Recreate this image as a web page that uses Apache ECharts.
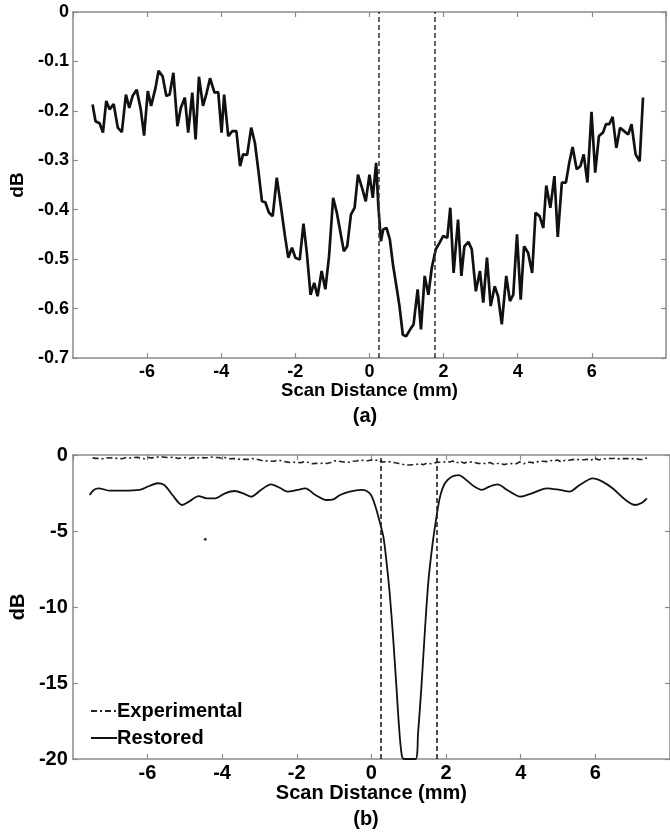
<!DOCTYPE html>
<html>
<head>
<meta charset="utf-8">
<script src="https://cdn.jsdelivr.net/npm/echarts@6/dist/echarts.min.js"></script>
<style>
  html, body { margin: 0; padding: 0; background: #fff; }
  #main { width: 670px; height: 834px; }
</style>
</head>
<body>
<div id="main"></div>
<script>
// measured (experimental) profile, panel (a) and dash-dot curve of panel (b)
var expX = [-7.47,-7.39,-7.28,-7.19,-7.10,-7.01,-6.90,-6.79,-6.68,-6.57,-6.48,-6.39,-6.28,-6.17,-6.08,-5.98,-5.89,-5.77,-5.69,-5.58,
  -5.48,-5.39,-5.29,-5.18,-5.09,-4.98,-4.89,-4.78,-4.69,-4.60,-4.49,-4.39,-4.30,-4.18,-4.08,-3.99,-3.92,-3.81,-3.70,-3.59,
  -3.49,-3.41,-3.30,-3.19,-3.09,-2.99,-2.90,-2.81,-2.71,-2.61,-2.50,-2.39,-2.28,-2.19,-2.09,-2.00,-1.88,-1.78,-1.69,-1.59,
  -1.49,-1.40,-1.29,-1.19,-1.09,-0.98,-0.88,-0.78,-0.69,-0.60,-0.50,-0.40,-0.31,-0.20,-0.10,0.00,0.09,0.18,0.24,0.31,
  0.37,0.46,0.55,0.64,0.74,0.81,0.90,0.99,1.10,1.19,1.30,1.39,1.49,1.59,1.68,1.79,1.89,1.99,2.10,2.18,
  2.27,2.39,2.48,2.56,2.67,2.76,2.87,2.98,3.07,3.17,3.27,3.38,3.47,3.57,3.69,3.79,3.88,3.98,4.08,4.17,
  4.28,4.39,4.48,4.59,4.69,4.77,4.88,4.99,5.08,5.19,5.30,5.39,5.48,5.59,5.69,5.78,5.88,5.99,6.09,6.19,
  6.30,6.38,6.47,6.56,6.66,6.76,6.87,6.98,7.07,7.18,7.29,7.38];
var expDb = [-0.187,-0.221,-0.225,-0.244,-0.180,-0.197,-0.186,-0.234,-0.243,-0.167,-0.194,-0.170,-0.157,-0.197,-0.250,-0.160,-0.190,-0.153,-0.119,-0.130,
  -0.170,-0.167,-0.123,-0.231,-0.194,-0.173,-0.244,-0.163,-0.258,-0.131,-0.190,-0.163,-0.134,-0.163,-0.162,-0.244,-0.167,-0.251,-0.241,-0.241,
  -0.312,-0.288,-0.289,-0.234,-0.265,-0.325,-0.383,-0.385,-0.406,-0.413,-0.335,-0.393,-0.453,-0.497,-0.477,-0.497,-0.501,-0.428,-0.487,-0.572,
  -0.548,-0.575,-0.524,-0.561,-0.494,-0.376,-0.406,-0.447,-0.484,-0.474,-0.410,-0.396,-0.329,-0.356,-0.383,-0.329,-0.376,-0.305,-0.393,-0.464,
  -0.440,-0.437,-0.460,-0.514,-0.561,-0.595,-0.653,-0.656,-0.642,-0.632,-0.561,-0.642,-0.534,-0.572,-0.518,-0.480,-0.467,-0.453,-0.457,-0.396,
  -0.528,-0.420,-0.534,-0.474,-0.465,-0.480,-0.565,-0.524,-0.588,-0.497,-0.595,-0.555,-0.575,-0.632,-0.534,-0.585,-0.572,-0.450,-0.582,-0.474,
  -0.487,-0.528,-0.406,-0.413,-0.437,-0.351,-0.396,-0.332,-0.455,-0.345,-0.345,-0.305,-0.273,-0.318,-0.312,-0.288,-0.345,-0.202,-0.325,-0.251,
  -0.244,-0.227,-0.227,-0.212,-0.275,-0.234,-0.241,-0.248,-0.227,-0.288,-0.302,-0.173];

// restored profile, panel (b)
var resX = [-7.55,-7.44,-7.31,-7.00,-6.65,-6.21,-5.95,-5.73,-5.55,-5.33,-5.07,-4.89,-4.63,-4.41,-4.19,-3.92,-3.66,-3.39,-3.22,-2.96,
  -2.69,-2.43,-2.25,-1.99,-1.77,-1.50,-1.20,-1.02,-0.84,-0.58,-0.27,-0.14,-0.01,0.11,0.21,0.32,0.40,0.49,0.58,0.67,
  0.74,0.81,0.87,1.18,1.25,1.34,1.44,1.53,1.64,1.73,1.84,1.97,2.15,2.34,2.54,2.76,2.96,3.16,3.38,3.64,
  3.99,4.30,4.70,5.05,5.31,5.58,5.93,6.19,6.46,6.81,7.07,7.25,7.38];
var resDb = [-2.63,-2.30,-2.19,-2.35,-2.35,-2.30,-2.04,-1.86,-1.97,-2.63,-3.29,-3.07,-2.70,-2.85,-2.85,-2.52,-2.37,-2.57,-2.74,-2.30,
  -1.93,-2.19,-2.41,-2.30,-2.19,-2.63,-2.96,-2.92,-2.63,-2.41,-2.30,-2.35,-2.63,-3.40,-4.28,-5.37,-6.91,-9.10,-11.95,-15.24,
  -17.87,-19.7,-20,-20,-18.3,-15.24,-11.3,-8.22,-5.81,-4.28,-2.74,-1.86,-1.43,-1.32,-1.64,-2.08,-2.30,-2.08,-1.93,-2.30,
  -2.74,-2.52,-2.19,-2.30,-2.41,-1.97,-1.54,-1.75,-2.19,-2.96,-3.29,-3.14,-2.85];

// stray dot in panel (b)
var dotX = [-4.45];
var dotDb = [-5.55];

// dashed markers
var markerX = [0.25, 1.75];

var FONT = 'Liberation Sans, Arial, sans-serif';
var AXIS_GRAY = '#8a8a8a';

function zip(a, b) {
    var out = [];
    for (var i = 0; i < a.length; i++) out.push([a[i], b[i]]);
    return out;
}

function boxAxis(dim, grid, pos, min, max, step, showLabel, fs, margin) {
    return {
        type: 'value', gridIndex: grid, position: pos,
        min: min, max: max, interval: step,
        axisLine: { show: true, onZero: false, lineStyle: { color: AXIS_GRAY, width: 1.5 } },
        axisTick: { show: true, inside: true, length: 5, lineStyle: { color: AXIS_GRAY, width: 1.2 } },
        splitLine: { show: false },
        axisLabel: {
            show: showLabel, color: '#000', fontFamily: FONT, fontWeight: 'bold', fontSize: fs, margin: margin,
            showMinLabel: dim == 'y', showMaxLabel: dim == 'y'
        }
    };
}

var markLines = markerX.map(function (v) { return { xAxis: v }; });

var xTopA = boxAxis('x', 0, 'bottom', -8, 8, 2, true, 18, 5);
xTopA.name = 'Scan Distance (mm)';
xTopA.nameLocation = 'middle';
xTopA.nameGap = 22;
xTopA.nameTextStyle = { color: '#000', fontFamily: FONT, fontWeight: 'bold', fontSize: 18.5 };

var yTopA = boxAxis('y', 0, 'left', -0.7, 0, 0.1, true, 18, 4);
yTopA.name = 'dB';
yTopA.nameLocation = 'middle';
yTopA.nameGap = 39;
yTopA.nameTextStyle = { color: '#000', fontFamily: FONT, fontWeight: 'bold', fontSize: 19 };

var xBotA = boxAxis('x', 1, 'bottom', -8, 8, 2, true, 20, 4);
xBotA.name = 'Scan Distance (mm)';
xBotA.nameLocation = 'middle';
xBotA.nameGap = 23;
xBotA.nameTextStyle = { color: '#000', fontFamily: FONT, fontWeight: 'bold', fontSize: 20 };

var yBotA = boxAxis('y', 1, 'left', -20, 0, 5, true, 20, 5);
yBotA.name = 'dB';
yBotA.nameLocation = 'middle';
yBotA.nameGap = 38;
yBotA.nameTextStyle = { color: '#000', fontFamily: FONT, fontWeight: 'bold', fontSize: 20 };

var option = {
    backgroundColor: '#fff',
    animation: false,
    grid: [
        { left: 65, top: 12, width: 601, height: 346 },
        { left: 68, top: 455, width: 607, height: 304 }
    ],
    xAxis: [
        xTopA,
        boxAxis('x', 0, 'top', -8, 8, 2, false, 18, 5),
        xBotA,
        boxAxis('x', 1, 'top', -8, 8, 2, false, 20, 4)
    ],
    yAxis: [
        yTopA,
        boxAxis('y', 0, 'right', -0.7, 0, 0.1, false, 18, 4),
        yBotA,
        boxAxis('y', 1, 'right', -20, 0, 5, false, 20, 5)
    ],
    legend: {
        data: ['Experimental', 'Restored'],
        orient: 'vertical',
        left: 85, top: 696,
        itemWidth: 26, itemHeight: 12, itemGap: 7,
        itemStyle: { opacity: 0 },
        textStyle: { color: '#000', fontFamily: FONT, fontWeight: 'bold', fontSize: 20, padding: [0, 0, 0, -5] }
    },
    graphic: [
        { type: 'text', x: 365, y: 416, style: { text: '(a)', textAlign: 'center', textVerticalAlign: 'middle', font: 'bold 20px ' + FONT, fill: '#000' } },
        { type: 'text', x: 366, y: 819, style: { text: '(b)', textAlign: 'center', textVerticalAlign: 'middle', font: 'bold 20px ' + FONT, fill: '#000' } }
    ],
    series: [
        {
            name: 'Measured', type: 'line', xAxisIndex: 0, yAxisIndex: 0,
            data: zip(expX, expDb), symbol: 'none',
            lineStyle: { color: '#111', width: 2.7 },
            markLine: {
                silent: true, symbol: ['none', 'none'], label: { show: false },
                lineStyle: { color: '#333', width: 1.5, type: [5, 3] },
                data: markLines
            }
        },
        {
            name: 'Experimental', type: 'line', xAxisIndex: 2, yAxisIndex: 2,
            data: zip(expX, expDb), symbol: 'none',
            itemStyle: { color: '#222' },
            lineStyle: { color: '#222', width: 1.6, type: [6, 3, 2, 3] },
            markLine: {
                silent: true, symbol: ['none', 'none'], label: { show: false },
                lineStyle: { color: '#222', width: 1.6, type: [5, 3] },
                data: markLines
            }
        },
        {
            name: 'Restored', type: 'line', xAxisIndex: 2, yAxisIndex: 2,
            data: zip(resX, resDb), symbol: 'none', smooth: 0.3,
            itemStyle: { color: '#111' },
            lineStyle: { color: '#111', width: 1.8 }
        },
        {
            name: 'dot', type: 'scatter', xAxisIndex: 2, yAxisIndex: 2,
            data: zip(dotX, dotDb), symbolSize: 3,
            itemStyle: { color: '#111' }
        }
    ]
};

var myChart = echarts.init(document.getElementById('main'));
myChart.setOption(option);
</script>
</body>
</html>
